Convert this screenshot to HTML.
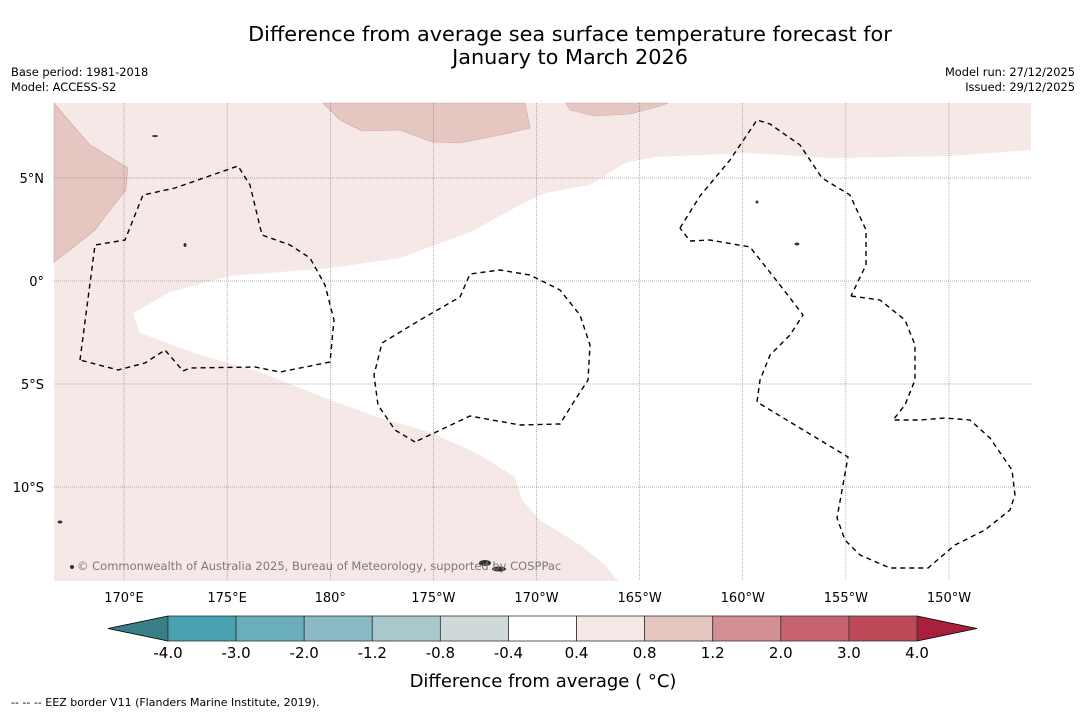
<!DOCTYPE html>
<html><head><meta charset="utf-8"><style>
body{margin:0;background:#fff;width:1085px;height:713px;overflow:hidden;font-family:"DejaVu Sans","Liberation Sans",sans-serif;}
svg{position:absolute;left:0;top:0}
</style></head><body>
<svg id="c" width="1085" height="713">
<text x="570" y="41" font-size="20.8" text-anchor="middle">Difference from average sea surface temperature forecast for</text>
<text x="570" y="64" font-size="20.8" text-anchor="middle">January to March 2026</text>
<text x="11" y="76" font-size="11.4">Base period: 1981-2018</text>
<text x="11" y="91" font-size="11.4">Model: ACCESS-S2</text>
<text x="1075" y="76" font-size="11.4" text-anchor="end">Model run: 27/12/2025</text>
<text x="1075" y="91" font-size="11.4" text-anchor="end">Issued: 29/12/2025</text>
<g id="map">
<rect x="54" y="103" width="977" height="478" fill="#f5e8e6"/>
<polygon fill="#ffffff" points="133,313 170,292 230,276 330,268 400,258 470,232 520,205 545,193 590,185 625,163 655,157 750,153 830,158 950,156 1031,150 1031,581 618,581 605,565 580,545 540,520 522,500 515,477 480,455 430,432 380,418 330,400 260,372 200,355 140,333"/>
<polygon fill="#e6c6c1" stroke="#c9a9a5" stroke-width="0.6" points="54,103 64,115 90,145 115,160 128,168 126,190 110,210 95,230 70,250 54,262"/>
<polygon fill="#e6c6c1" stroke="#c9a9a5" stroke-width="0.6" points="323,103 340,120 362,131 400,130 432,142 460,143 500,135 530,128 525,103"/>
<polygon fill="#e6c6c1" stroke="#c9a9a5" stroke-width="0.6" points="566,103 570,110 595,116 630,114 660,106 668,103"/>
</g>
<g id="grid"></g>
<g fill="none" stroke="#000" stroke-width="1.4" stroke-dasharray="5,4">
<polyline points="80,360 95,245 125,240 143,195 175,188 238,166 250,185 262,235 290,245 310,258 325,285 334,320 330,362 280,372 255,367 190,368 183,371 165,350 145,363 118,370 80,360"/>
<polyline points="415,442 395,430 378,405 374,375 382,343 420,320 460,297 470,274 500,270 530,275 560,290 580,315 590,345 588,380 575,400 560,424 520,425 470,416 415,442"/>
<polyline points="680,228 700,196 730,160 757,120 770,124 800,145 822,178 850,195 866,230 866,265 851,296"/>
<polyline points="851,296 880,300 905,320 915,345 915,380 905,405 893,420 920,420 945,418 970,420 990,438 1012,470 1015,495 1010,510 985,530 955,545 928,568 890,568 860,555 845,540 837,518 848,457 757,402 760,380 770,355 790,335 803,315 780,285 750,247 710,240 690,241 680,228"/>
</g>
<g fill="#333">
<ellipse cx="485" cy="563" rx="6" ry="3"/><ellipse cx="499" cy="569" rx="7" ry="2.5"/><ellipse cx="60" cy="522" rx="2.5" ry="1.5"/><ellipse cx="72" cy="567" rx="2" ry="2"/><ellipse cx="797" cy="244" rx="2.5" ry="1.5"/><ellipse cx="757" cy="202" rx="1.5" ry="1.5"/><ellipse cx="185" cy="245" rx="1.5" ry="2"/><ellipse cx="155" cy="136" rx="3" ry="1"/>
</g>
<text x="77" y="570" font-size="11.5" fill="#7a7a7a">© Commonwealth of Australia 2025, Bureau of Meteorology, supported by COSPPac</text>
<g id="cbar"></g>
<text x="543" y="687" font-size="18" text-anchor="middle">Difference from average ( °C)</text>
<text x="11" y="706" font-size="11">--  --  -- EEZ border V11 (Flanders Marine Institute, 2019).</text>
</svg>
<script>
const lonLabels=["170°E","175°E","180°","175°W","170°W","165°W","160°W","155°W","150°W"];
const lonValues=[170,175,180,185,190,195,200,205,210];
const latLabels=["5°N","0°","5°S","10°S"];
const latValues=[5,0,-5,-10];
const cbarBounds=[-4.0,-3.0,-2.0,-1.2,-0.8,-0.4,0.4,0.8,1.2,2.0,3.0,4.0];
const cbarLabels=["-4.0","-3.0","-2.0","-1.2","-0.8","-0.4","0.4","0.8","1.2","2.0","3.0","4.0"];
const cbarColors=["#48a1b0","#6aaebb","#8ab9c4","#a9c8cc","#d0d9da","#ffffff","#f5e8e6","#e6c6c1","#d48f96","#c7636e","#bd4957"];
const underColor="#3a7f87", overColor="#a8203c";
const NS="http://www.w3.org/2000/svg";
const xLon=v=>124+(v-170)*20.625, yLat=v=>281-v*20.6;
const g=document.getElementById('grid');
function mk(t,a,p){const e=document.createElementNS(NS,t);for(const k in a)e.setAttribute(k,a[k]);p.appendChild(e);return e;}
const svg=document.getElementById('c');
lonValues.forEach((v,i)=>{
 const l=mk('line',{x1:xLon(v),x2:xLon(v),y1:103,y2:581,stroke:'#666','stroke-width':0.5,'stroke-dasharray':'1,1'},g);
 
 
 const t=mk('text',{x:xLon(v),y:602,'font-size':13,'text-anchor':'middle'},svg);t.textContent=lonLabels[i];
 
 
});
latValues.forEach((v,i)=>{
 const l=mk('line',{x1:54,x2:1031,y1:yLat(v),y2:yLat(v),stroke:'#666','stroke-width':0.5,'stroke-dasharray':'1,1'},g);
 
 
 const t=mk('text',{x:44,y:yLat(v)+5,'font-size':13,'text-anchor':'end'},svg);t.textContent=latLabels[i];
 
 
});
const cb=document.getElementById('cbar');
const x0=168,x1=917,n=cbarColors.length,w=(x1-x0)/n,yt=616,yb=641;
const pu=mk('polygon',{points:`${x0},${yt} 108,${(yt+yb)/2} ${x0},${yb}`,fill:underColor,stroke:'#000','stroke-width':0.8},cb);


const po=mk('polygon',{points:`${x1},${yt} 977,${(yt+yb)/2} ${x1},${yb}`,fill:overColor,stroke:'#000','stroke-width':0.8},cb);


cbarColors.forEach((c,i)=>{
 const r=mk('rect',{x:x0+i*w,y:yt,width:w,height:yb-yt,fill:c,stroke:'#333','stroke-width':0.8},cb);
 
 
});
cbarBounds.forEach((b,i)=>{
 const t=mk('text',{x:x0+i*w,y:658,'font-size':15,'text-anchor':'middle'},svg);t.textContent=cbarLabels[i];
 
 
});
</script>
</body></html>
